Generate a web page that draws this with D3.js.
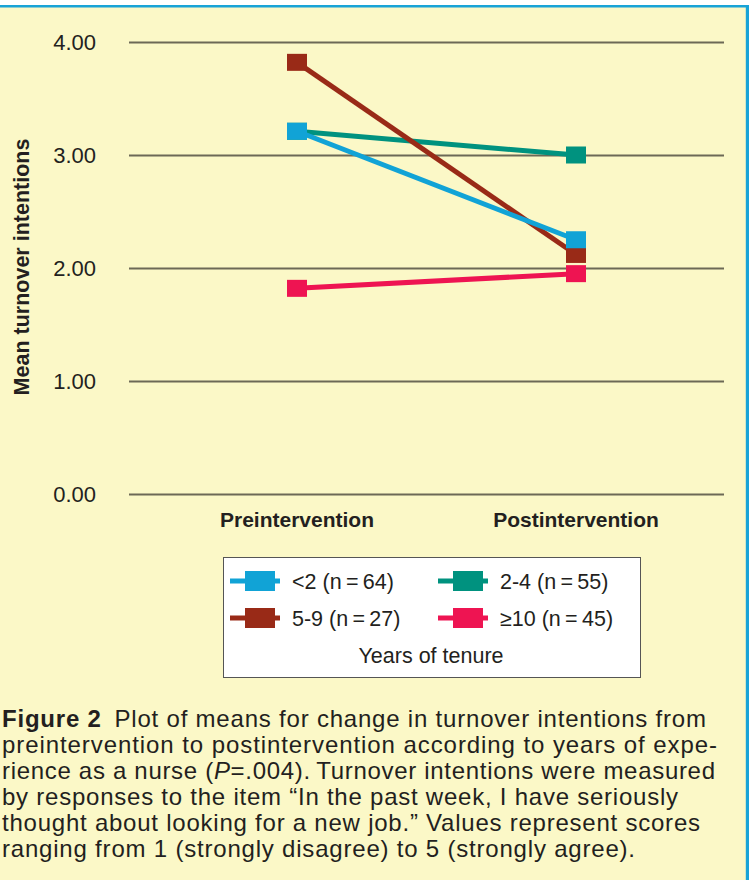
<!DOCTYPE html>
<html>
<head>
<meta charset="utf-8">
<script src="https://cdn.jsdelivr.net/npm/d3@7"></script>
<style>
  body { margin: 0; background: #fff; }
  svg { display: block; font-family: "Liberation Sans", Arial, sans-serif; }
</style>
</head>
<body>
<svg id="chart" width="749" height="880"></svg>
<script>
// data
const phases = ["Preintervention", "Postintervention"];
const groups = ["<2 (n\u2009=\u200964)", "2-4 (n\u2009=\u200955)", "5-9 (n\u2009=\u200927)", "\u226510 (n\u2009=\u200945)"];
const lessThan2 = [3.21, 2.25];
const twoToFour = [3.21, 3.00];
const fiveToNine = [3.82, 2.12];
const tenPlus = [1.82, 1.95];
const yTicks = [0, 1, 2, 3, 4];
const captionLines = [
  [["Figure 2", "bold"], ["\u2002Plot of means for change in turnover intentions from"]],
  [["preintervention to postintervention according to years of expe-"]],
  [["rience as a nurse ("], ["P", "italic"], ["=.004).\u2009Turnover intentions were measured"]],
  [["by responses to the item \u201cIn the past week, I have seriously"]],
  [["thought about looking for a new job.\u201d Values represent scores"]],
  [["ranging from 1 (strongly disagree) to 5 (strongly agree)."]]
];
const captionWidths = [704, 715, 713, 676, 698, 633];

const colors = ["#11a3d6", "#00927f", "#992a17", "#ee1452"];
const seriesValues = [lessThan2, twoToFour, fiveToNine, tenPlus];
const series = groups.map((g, i) => ({ key: g, color: colors[i], values: seriesValues[i] }));
const drawOrder = [1, 2, 0, 3]; // teal under brown under blue

const width = 749, height = 880;
const svg = d3.select("#chart");
const ink = "#231f20";

// panel background with blue frame at top and right
svg.append("rect").attr("x", 0).attr("y", 5).attr("width", width).attr("height", height - 5).attr("fill", "#18a3d7");
svg.append("rect").attr("x", 0).attr("y", 7.5).attr("width", 745.8).attr("height", height - 7.5).attr("fill", "#fbf8c7");

const plotLeft = 129, plotRight = 724;
const y = d3.scaleLinear().domain([0, 4]).range([494, 42]);
const x = d3.scalePoint().domain(phases).range([297, 576]);

// gridlines + tick labels
svg.append("g")
    .attr("transform", `translate(${plotLeft},0)`)
    .call(d3.axisLeft(y)
        .tickValues(yTicks)
        .tickSize(-(plotRight - plotLeft))
        .tickPadding(33)
        .tickFormat(d3.format(".2f")))
    .call(g => g.select(".domain").remove())
    .call(g => g.selectAll("line").attr("stroke", "#6c6956").attr("stroke-width", 2))
    .call(g => g.selectAll("text")
        .attr("fill", ink)
        .style("font-size", "22px")
        .attr("dy", "0.36em"));

// y label
svg.append("text")
    .attr("transform", `translate(29,267) rotate(-90)`)
    .attr("text-anchor", "middle")
    .attr("fill", ink)
    .style("font-size", "21.5px")
    .style("font-weight", "bold")
    .text("Mean turnover intentions");

// x labels
svg.append("g")
    .selectAll("text")
    .data(phases)
    .join("text")
    .attr("x", d => x(d))
    .attr("y", 527)
    .attr("text-anchor", "middle")
    .attr("fill", ink)
    .style("font-size", "21px")
    .style("font-weight", "bold")
    .text(d => d);

// lines and square markers
const line = d3.line().x((d, i) => x(phases[i])).y(d => y(d));
const markW = 20, markH = 17;
const sg = svg.append("g")
    .selectAll("g")
    .data(drawOrder.map(i => series[i]))
    .join("g");
sg.append("path")
    .attr("d", d => line(d.values))
    .attr("fill", "none")
    .attr("stroke", d => d.color)
    .attr("stroke-width", 5);
sg.selectAll("rect")
    .data(d => d.values.map((v, i) => ({ v, i, color: d.color })))
    .join("rect")
    .attr("x", d => x(phases[d.i]) - markW / 2)
    .attr("y", d => y(d.v) - markH / 2)
    .attr("width", markW)
    .attr("height", markH)
    .attr("fill", d => d.color);

// legend
const legend = svg.append("g");
legend.append("rect")
    .attr("x", 223.5).attr("y", 557.5)
    .attr("width", 417).attr("height", 120)
    .attr("fill", "#fff")
    .attr("stroke", "#555")
    .attr("stroke-width", 1);
const colX = [230, 438], rowY = [581, 618];
const item = legend.selectAll("g.item")
    .data(series)
    .join("g")
    .attr("class", "item")
    .attr("transform", (d, i) => `translate(${colX[i % 2]},${rowY[Math.floor(i / 2)]})`);
item.append("line")
    .attr("x1", 0).attr("x2", 50)
    .attr("stroke", d => d.color)
    .attr("stroke-width", 5);
item.append("rect")
    .attr("x", 15).attr("y", -10)
    .attr("width", 30).attr("height", 20)
    .attr("fill", d => d.color);
item.append("text")
    .attr("x", 62).attr("y", 7.5)
    .attr("fill", ink)
    .style("font-size", "21.5px")
    .text(d => d.key);
legend.append("text")
    .attr("x", 431).attr("y", 663)
    .attr("text-anchor", "middle")
    .attr("fill", ink)
    .style("font-size", "21.5px")
    .text("Years of tenure");

// caption, each line fitted to the width measured on the figure
const cap = svg.append("g");
captionLines.forEach((parts, li) => {
  const t = cap.append("text")
      .attr("x", 2)
      .attr("y", 727 + li * 26)
      .attr("fill", ink)
      .style("font-size", "24px");
  parts.forEach(([s, style]) => {
    const ts = t.append("tspan").text(s);
    if (style === "bold") ts.style("font-weight", "bold");
    if (style === "italic") ts.style("font-style", "italic");
  });
  const w = t.node().getComputedTextLength();
  const n = parts.reduce((a, p) => a + p[0].length, 0);
  t.style("letter-spacing", ((captionWidths[li] - w) / (n - 1)) + "px");
});
</script>
</body>
</html>
